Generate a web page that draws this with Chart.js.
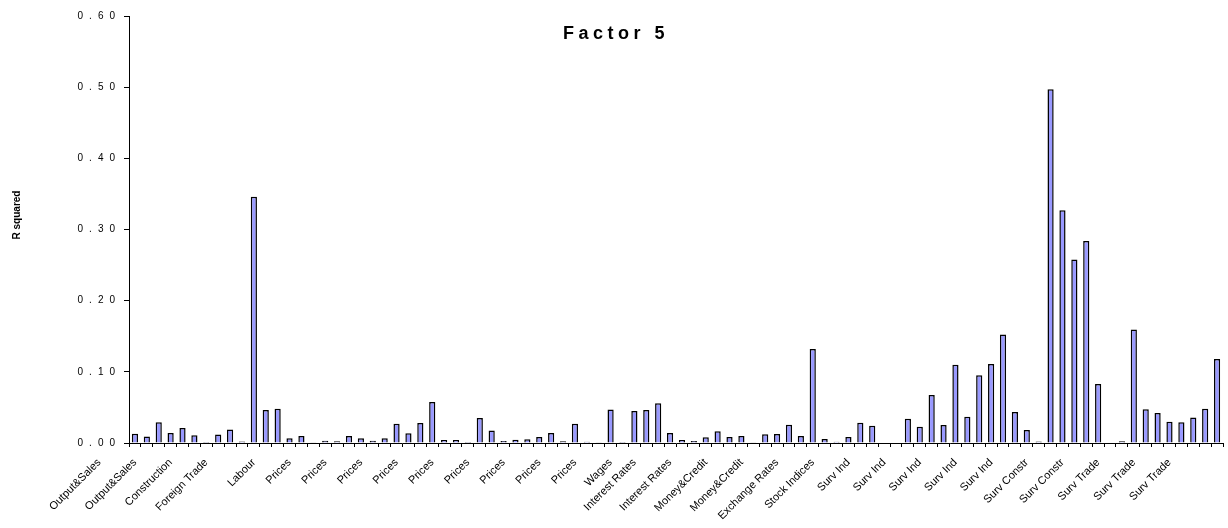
<!DOCTYPE html>
<html>
<head>
<meta charset="utf-8">
<script src="https://cdn.jsdelivr.net/npm/chart.js@4.4.1/dist/chart.umd.min.js"></script>
<style>
  html, body { margin: 0; padding: 0; background: #fff; }
  #wrap { width: 1228px; height: 528px; }
</style>
</head>
<body>
<div id="wrap"><canvas id="c" width="1228" height="528"></canvas></div>
<script>
// Texts
const chartTitle = 'Factor 5';
const yTitle = 'R squared';
const leadLabel = 'Output&Sales';

// Value axis ticks
const yTicks = [0.0, 0.1, 0.2, 0.3, 0.4, 0.5, 0.6];

// Group caption shown under every third series (blank = no caption)
const categories = [
  'Output&Sales', '', '', 'Construction', '', '', 'Foreign Trade', '', '', '',
  'Labour', '', '', 'Prices', '', '', 'Prices', '', '', 'Prices',
  '', '', 'Prices', '', '', 'Prices', '', '', 'Prices', '',
  '', 'Prices', '', '', 'Prices', '', '', 'Prices', '', '',
  'Wages', '', 'Interest Rates', '', '', 'Interest Rates', '', '', 'Money&Credit', '',
  '', 'Money&Credit', '', '', 'Exchange Rates', '', '', 'Stock Indices', '', '',
  'Surv Ind', '', '', 'Surv Ind', '', '', 'Surv Ind', '', '', 'Surv Ind',
  '', '', 'Surv Ind', '', '', 'Surv Constr', '', '', 'Surv Constr', '',
  '', 'Surv Trade', '', '', 'Surv Trade', '', '', 'Surv Trade', '', '',
  '', ''
];

// R squared of each series on factor 5
const rSquared = [
  0.013, 0.009, 0.029, 0.014, 0.021, 0.011, 0.0015, 0.012, 0.019, 0.002,
  0.346, 0.0465, 0.048, 0.0066, 0.0099, 0.001, 0.003, 0.0024, 0.0099, 0.0066,
  0.003, 0.0066, 0.027, 0.0136, 0.028, 0.0577, 0.0042, 0.0042, 0.0014, 0.0352,
  0.0174, 0.0028, 0.0047, 0.0052, 0.0085, 0.014, 0.0023, 0.027, 0.0019, 0.001,
  0.047, 0.0014, 0.045, 0.0465, 0.0559, 0.014, 0.0042, 0.0028, 0.008, 0.0164,
  0.0085, 0.0099, 0.0005, 0.0122, 0.0127, 0.0258, 0.0099, 0.132, 0.0056, 0.0019,
  0.0085, 0.0286, 0.0244, 0, 0, 0.034, 0.023, 0.0676, 0.0253, 0.110,
  0.037, 0.0953, 0.111, 0.1526, 0.0437, 0.0183, 0.002, 0.497, 0.327, 0.258,
  0.284, 0.083, 0, 0.0023, 0.1596, 0.0475, 0.042, 0.030, 0.029, 0.036,
  0.048, 0.118
];

const FONT = '"Liberation Sans", Arial, sans-serif';
Chart.defaults.font.family = FONT;
Chart.defaults.color = '#000';

// Wide character spacing on the value-axis numbers
const spacedTicks = {
  id: 'spacedTicks',
  beforeDraw(chart) {
    const s = chart.scales.y;
    if (s && !s._spacedPatch) {
      const orig = s.drawLabels;
      s.drawLabels = function (area) {
        const ctx = this.ctx;
        ctx.save();
        ctx.letterSpacing = '6px';
        orig.call(this, area);
        ctx.restore();
      };
      s._spacedPatch = true;
    }
  }
};

// Title, axis title and the caption hanging left of the first bar
const captions = {
  id: 'captions',
  afterDraw(chart) {
    const ctx = chart.ctx;
    const x = chart.scales.x;
    ctx.save();
    ctx.fillStyle = '#000';

    ctx.font = 'bold 18px ' + FONT;
    ctx.letterSpacing = '4.5px';
    ctx.textAlign = 'center';
    ctx.textBaseline = 'middle';
    ctx.fillText(chartTitle, chart.width / 2 + 2, 34);

    ctx.letterSpacing = '0px';
    ctx.save();
    ctx.font = 'bold 10px ' + FONT;
    ctx.translate(17, 215);
    ctx.rotate(-Math.PI / 2);
    ctx.fillText(yTitle, 0, 0);
    ctx.restore();

    const items = x.getLabelItems();
    const first = items.find(it => it.label === categories[0]);
    if (first) {
      const step = x.getPixelForValue(1) - x.getPixelForValue(0);
      const o = first.options;
      ctx.save();
      ctx.font = first.font.string;
      ctx.translate(o.translation[0] - 3 * step, o.translation[1]);
      ctx.rotate(o.rotation);
      ctx.textAlign = o.textAlign;
      ctx.textBaseline = o.textBaseline;
      ctx.fillText(leadLabel, 0, first.textOffset);
      ctx.restore();
    }
    ctx.restore();
  }
};

new Chart(document.getElementById('c'), {
  type: 'bar',
  data: {
    labels: categories,
    datasets: [{
      data: rSquared,
      backgroundColor: '#9999ff',
      borderColor: '#000',
      borderWidth: 1.5,
      barPercentage: 0.52,
      categoryPercentage: 1.0
    }]
  },
  options: {
    responsive: false,
    animation: false,
    devicePixelRatio: 1,
    layout: { padding: { top: 16, right: 5, left: 0, bottom: 0 } },
    plugins: {
      legend: { display: false },
      title: { display: false },
      tooltip: { enabled: false }
    },
    scales: {
      x: {
        grid: { offset: true, drawOnChartArea: false, drawTicks: true, tickLength: 4, color: '#000', lineWidth: 1 },
        border: { color: '#000', width: 1 },
        ticks: { autoSkip: false, maxRotation: 45, minRotation: 45, font: { size: 11 }, color: '#000', padding: 9 },
        afterFit: s => { s.height = 85; s.paddingLeft = 0; s.paddingRight = 0; }
      },
      y: {
        min: yTicks[0],
        max: yTicks[yTicks.length - 1],
        ticks: {
          stepSize: yTicks[1] - yTicks[0],
          callback: v => v.toFixed(2),
          font: { size: 10 },
          color: '#000',
          padding: 3
        },
        grid: { drawOnChartArea: false, drawTicks: true, tickLength: 5, color: '#000' },
        border: { color: '#000', width: 1 },
        afterFit: s => { s.width = 129; s.paddingTop = 0; s.paddingBottom = 0; }
      }
    }
  },
  plugins: [spacedTicks, captions]
});
</script>
</body>
</html>
